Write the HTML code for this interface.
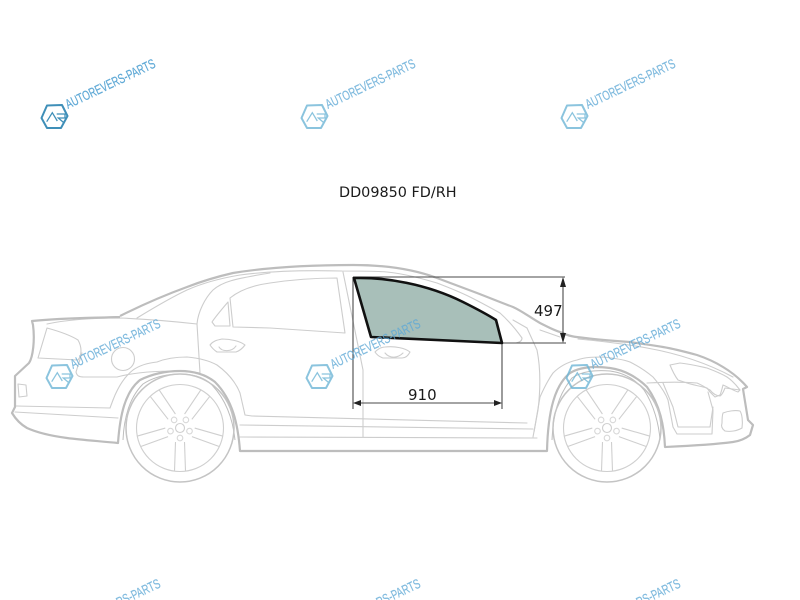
<!DOCTYPE html>
<html><head><meta charset="utf-8"><style>
html,body{margin:0;padding:0;background:#fff;width:800px;height:600px;overflow:hidden}svg{display:block}
#f{position:relative;width:800px;height:600px;overflow:hidden}
</style></head><body><div id="f">
<svg width="800" height="600" viewBox="0 0 800 600" xmlns="http://www.w3.org/2000/svg" style="filter:blur(.35px)">
<defs>
<g id="wheel" fill="none" stroke="#cfcfcf" stroke-width="1.1">
<circle r="54" stroke="#c4c4c4" stroke-width="1.5"/><circle r="43.5"/>
<circle r="4.5"/>
<g id="bolt"><circle cy="10" cx="0" r="2.8" stroke="#d8d8d8"/></g>
<use href="#bolt" transform="rotate(72)"/><use href="#bolt" transform="rotate(144)"/><use href="#bolt" transform="rotate(216)"/><use href="#bolt" transform="rotate(288)"/>
<g id="sp"><path d="M-4.5,14 L-5.5,43 M4.5,14 L5.5,43"/></g>
<use href="#sp" transform="rotate(72)"/><use href="#sp" transform="rotate(144)"/><use href="#sp" transform="rotate(216)"/><use href="#sp" transform="rotate(288)"/>
</g>
<g id="logo" fill="none">
<path d="M47,105.5 L62,105 L67.5,116 L61,128 L47,128 L41.5,118 Z" stroke-width="2" stroke-linejoin="round"/>
<path d="M46.7,121.7 L52.3,112.7 L57.3,121 M56.7,114 L65,114 L65,118 L58.3,118 L63.3,122.3" stroke-width="1.3"/>
</g>
<text id="wt" transform="translate(68,109) rotate(-25.5)" font-family="Liberation Sans, sans-serif" font-size="13.4" textLength="98" lengthAdjust="spacingAndGlyphs" fill="#5fa9d6" stroke="#5fa9d6" stroke-width=".2">AUTOREVERS-PARTS</text>
<text id="wb" transform="translate(119,607) rotate(-25.5)" font-family="Liberation Sans, sans-serif" font-size="13.4" textLength="47" lengthAdjust="spacingAndGlyphs" fill="#5fa9d6" stroke="#5fa9d6" stroke-width=".2">RS-PARTS</text>
</defs>

<!-- glass -->
<path d="M354,278 C385,277 427,284 463,302 C475,308 485,313 496,320 L502,343 L371,337 Z" fill="#a8bfb9"/>

<!-- thin car details -->
<g fill="none" stroke="#cdcdcd" stroke-width="1.1" stroke-linejoin="round" stroke-linecap="round">
<path d="M137,318 C155,307 170,298 187,290 C205,282 222,278 240,275 C270,271 305,270 342,271 C360,271 375,271 387,272 C405,274 420,278 437,283 C450,288 460,292 470,297 C482,303 491,308 500,313 C510,322 517,331 522,338 C522,341 520,342 516,343 L502,343"/>
<path d="M47,324 C70,319 95,318 120,318 C145,319 170,321 197,324"/>
<path d="M47,328 L38,358 L78,360 C82,355 82,347 78,340 C70,335 58,331 47,328 Z"/>
<path d="M82,353 L76,372 C77,376 79,377 84,377 L117,377"/>
<path d="M113,400 C118,387 124,377 133,370 C140,365 148,363 157,362 C167,358 177,357 187,357 C198,358 208,360 217,365 C228,373 236,383 240,393 L245,415 L252,416"/>
<path d="M16,406 L110,408 L113,400"/>
<path d="M15,412 L118,418"/>
<path d="M117,377 C135,372 170,369 200,373"/>
<path d="M197,324 C198,312 205,298 213,290 C222,282 233,279 270,273"/>
<path d="M197,324 L200,373"/>
<path d="M343,272 L363,370 L363,437"/>
<path d="M230,298 C240,290 255,285 270,283 C290,280 315,278 337,278 L345,333 L270,328 L233,327 L230,298 Z"/>
<path d="M228,302 C222,309 216,316 212,322 L215,326 L230,326 Z"/>
<circle cx="123" cy="359" r="11.5"/>
<path d="M210,345 C213,341 217,340 222,339 C230,339 240,341 245,345 C242,349 239,351 236,352 L217,352 C214,350 212,348 210,345 Z M219,347 C222,352 232,352 236,346"/>
<path d="M375,352 C378,349 381,347 385,347 C395,346 405,348 410,352 C408,356 405,358 402,358 L383,358 C380,357 377,355 375,352 Z M385,353 C390,359 398,358 403,353"/>
<path d="M18,384 L26,385 L27,396 L19,397 Z"/>
<path d="M252,416 L527,423 M240,425 L533,429 M240,437 L537,438"/>
<path d="M527,328 L537,350 C540,365 541,385 538,410 L533,437"/>
<path d="M540,330 L560,337 M513,320 L527,328"/>
<path d="M534,432 L540,397 C544,388 548,380 553,373 C560,366 568,362 577,360 C585,357 595,357 603,357 C613,358 622,359 630,362 C640,367 647,372 653,377 C659,384 665,392 668,400 L673,427 L677,434 L712,434 L713,410 L708,392"/>
<path d="M663,383 L673,407 L678,427 L710,427 L713,407"/>
<path d="M647,383 C665,382 685,382 697,383 C702,385 706,388 710,390 C713,394 717,396 720,396 C723,394 724,390 725,388 L740,390"/>
<path d="M578,339 C600,341 625,344 647,348 C675,353 705,362 733,377"/>
<path d="M670,365 L680,363 C690,364 698,366 707,368 C715,371 722,374 727,377 C733,381 737,386 740,390 L738,392 C732,390 728,387 723,385 C722,389 721,393 720,395 L715,397 L710,392 L707,388 C700,386 693,385 687,383 L678,380 C675,376 672,370 670,365 Z"/>
<path d="M723,413 C728,411 735,410 740,411 C742,414 743,421 742,428 C737,431 730,432 725,431 C722,429 721,426 722,423 C722,419 722,416 723,413 Z"/>
</g>

<!-- heavy outline -->
<g fill="none" stroke="#bdbdbd" stroke-width="2.2" stroke-linejoin="round">
<path d="M120,316 C142,305 165,295 187,287 C205,280 220,276 233,273 C270,267 310,265 353,265 C378,265 410,268 437,278 C450,283 464,288 477,293 C490,298 502,303 513,307 C522,311 531,318 540,323 C548,327 555,331 563,333 C568,336 575,337 585,338 C600,340 615,341 630,342 C642,344 652,345 663,347 C675,349 686,352 697,355 C706,358 715,362 723,367 C733,373 741,380 747,387 L743,389 L748,420 L753,425 L750,435 C745,439 740,441 733,442 C710,445 687,446 665,447 C664,425 660,405 647,387 C638,378 625,370 610,368 C595,366 580,367 570,373 C555,385 548,410 547,451 L240,451 C238,425 233,400 215,382 C205,374 192,371 180,371 C166,371 152,374 140,380 C125,392 120,415 118,443 C98,441 82,440 67,438 C52,436 38,433 27,428 C20,424 15,418 12,413 L15,407 L15,376 L29,363 C33,357 35,340 33,325 L32,321 C60,318 90,318 120,317"/>
<path d="M123,440 C124,416 130,397 143,384 C155,376 170,374 180,374 C195,374 205,378 212,385 C226,400 233,420 235,440" stroke-width="1"/>
<path d="M552,440 C553,415 558,395 572,378 C582,371 595,370 610,371 C625,373 636,380 644,390 C654,405 659,425 660,440" stroke-width="1"/>
</g>

<use href="#wheel" x="180" y="428"/>
<use href="#wheel" x="607" y="428"/>

<!-- dimensions -->
<g fill="none" stroke="#4a4a4a" stroke-width="1.1">
<path d="M353,277 H565 M502,343 H566 M563,279 V341 M353,277 V409 M502,343 V409 M355,403 H500"/>
</g>
<g fill="#222">
<path d="M563,277 L560,287 H566 Z M563,343 L560,333 H566 Z M353,403 L361,400 V406 Z M502,403 L494,400 V406 Z"/>
</g>

<!-- glass outline -->
<path d="M354,278 C385,277 427,284 463,302 C475,308 485,313 496,320 L502,343 L371,337 Z" fill="none" stroke="#111" stroke-width="2.6" stroke-linejoin="round"/>

<!-- text -->
<g font-family="DejaVu Sans, sans-serif" fill="#1a1a1a">
<text x="339" y="197" font-size="14.4">DD09850 FD/RH</text>
<text x="534" y="316" font-size="15">497</text>
<text x="408" y="400" font-size="15">910</text>
</g>

<!-- watermarks -->
<use href="#logo" stroke="#3f8fb8"/>
<use href="#wt"/>
<g opacity=".8">
<use href="#logo" x="260" stroke="#6fb6d6"/><use href="#wt" transform="translate(260,0)"/>
<use href="#logo" x="520" stroke="#6fb6d6"/><use href="#wt" transform="translate(520,0)"/>
<use href="#logo" x="5" y="260" stroke="#6fb6d6"/><use href="#wt" transform="translate(5,260)"/>
<use href="#logo" x="265" y="260" stroke="#6fb6d6"/><use href="#wt" transform="translate(265,260)"/>
<use href="#logo" x="525" y="260" stroke="#6fb6d6"/><use href="#wt" transform="translate(525,260)"/>
<use href="#wb"/>
<use href="#wb" transform="translate(260,0)"/>
<use href="#wb" transform="translate(520,0)"/>
</g>
</svg>
</div></body></html>
